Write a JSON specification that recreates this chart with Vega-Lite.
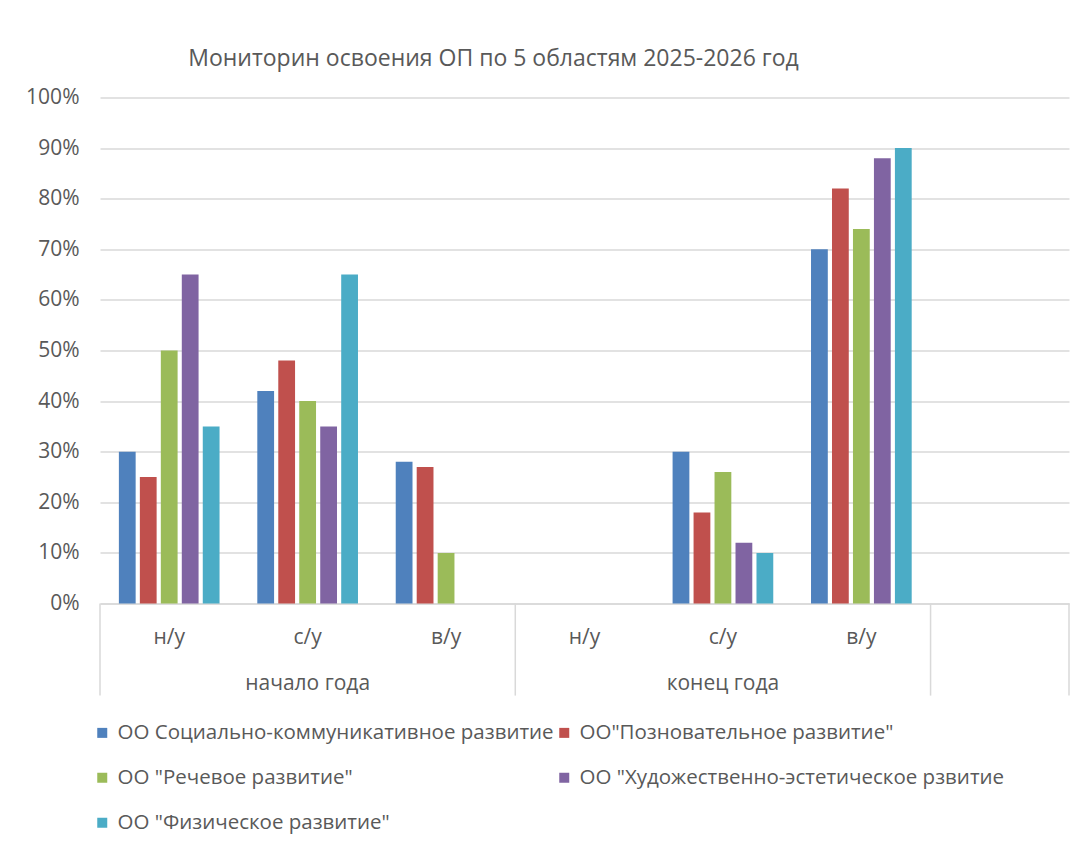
{
  "$schema": "https://vega.github.io/schema/vega-lite/v6.json",
  "autosize": {"type": "none"},
  "padding": {"left": 100, "top": 97.5, "right": 19, "bottom": 248.5},
  "width": 969,
  "height": 506,
  "background": "white",
  "title": {
    "text": "Мониторин освоения ОП по 5 областям 2025-2026 год",
    "font": "Open Sans",
    "fontSize": 23,
    "fontWeight": "normal",
    "color": "#595959",
    "anchor": "middle",
    "frame": "group",
    "dx": -91,
    "offset": 16
  },
  "data": {
    "values": [
      {"pos": 1, "s": "ОО Социально-коммуникативное развитие", "v": 0.30},
      {"pos": 1, "s": "ОО\"Позновательное развитие\"", "v": 0.25},
      {"pos": 1, "s": "ОО \"Речевое развитие\"", "v": 0.50},
      {"pos": 1, "s": "ОО \"Художественно-эстетическое рзвитие", "v": 0.65},
      {"pos": 1, "s": "ОО \"Физическое развитие\"", "v": 0.35},
      {"pos": 2, "s": "ОО Социально-коммуникативное развитие", "v": 0.42},
      {"pos": 2, "s": "ОО\"Позновательное развитие\"", "v": 0.48},
      {"pos": 2, "s": "ОО \"Речевое развитие\"", "v": 0.40},
      {"pos": 2, "s": "ОО \"Художественно-эстетическое рзвитие", "v": 0.35},
      {"pos": 2, "s": "ОО \"Физическое развитие\"", "v": 0.65},
      {"pos": 3, "s": "ОО Социально-коммуникативное развитие", "v": 0.28},
      {"pos": 3, "s": "ОО\"Позновательное развитие\"", "v": 0.27},
      {"pos": 3, "s": "ОО \"Речевое развитие\"", "v": 0.10},
      {"pos": 5, "s": "ОО Социально-коммуникативное развитие", "v": 0.30},
      {"pos": 5, "s": "ОО\"Позновательное развитие\"", "v": 0.18},
      {"pos": 5, "s": "ОО \"Речевое развитие\"", "v": 0.26},
      {"pos": 5, "s": "ОО \"Художественно-эстетическое рзвитие", "v": 0.12},
      {"pos": 5, "s": "ОО \"Физическое развитие\"", "v": 0.10},
      {"pos": 6, "s": "ОО Социально-коммуникативное развитие", "v": 0.70},
      {"pos": 6, "s": "ОО\"Позновательное развитие\"", "v": 0.82},
      {"pos": 6, "s": "ОО \"Речевое развитие\"", "v": 0.74},
      {"pos": 6, "s": "ОО \"Художественно-эстетическое рзвитие", "v": 0.88},
      {"pos": 6, "s": "ОО \"Физическое развитие\"", "v": 0.90}
    ]
  },
  "layer": [
    {
      "mark": {"type": "bar"},
      "encoding": {
        "x": {
          "field": "pos",
          "type": "ordinal",
          "title": null,
          "scale": {"domain": [1, 2, 3, 4, 5, 6, 7], "paddingInner": 0, "paddingOuter": 0},
          "axis": {
            "labelExpr": "datum.value == 1 || datum.value == 4 ? 'н/у' : datum.value == 2 ? ['с/у', 'начало года'] : datum.value == 5 ? ['с/у', 'конец года'] : datum.value == 3 || datum.value == 6 ? 'в/у' : ''",
            "labelAngle": 0,
            "labelBaseline": "top",
            "labelPadding": 23,
            "labelLineHeight": 46,
            "labelFontSize": 21,
            "labelFont": "Open Sans",
            "labelColor": "#595959",
            "ticks": false,
            "grid": false,
            "domain": true,
            "domainColor": "#d9d9d9",
            "domainWidth": 1.5
          }
        },
        "xOffset": {
          "field": "s",
          "type": "nominal",
          "sort": null,
          "scale": {
            "domain": ["ОО Социально-коммуникативное развитие", "ОО\"Позновательное развитие\"", "ОО \"Речевое развитие\"", "ОО \"Художественно-эстетическое рзвитие", "ОО \"Физическое развитие\""],
            "paddingInner": 0.2,
            "paddingOuter": 0.9
          }
        },
        "y": {
          "field": "v",
          "type": "quantitative",
          "title": null,
          "scale": {"domain": [0, 1], "nice": false},
          "axis": {
            "values": [0, 0.1, 0.2, 0.3, 0.4, 0.5, 0.6, 0.7, 0.8, 0.9, 1],
            "format": ".0%",
            "grid": true,
            "gridColor": "#d9d9d9",
            "gridWidth": 1.3,
            "domain": false,
            "ticks": false,
            "labelPadding": 21,
            "labelFontSize": 21,
            "labelFont": "Open Sans",
            "labelColor": "#595959"
          }
        },
        "color": {
          "field": "s",
          "type": "nominal",
          "sort": null,
          "scale": {
            "domain": ["ОО Социально-коммуникативное развитие", "ОО\"Позновательное развитие\"", "ОО \"Речевое развитие\"", "ОО \"Художественно-эстетическое рзвитие", "ОО \"Физическое развитие\""],
            "range": ["#4F81BD", "#C0504D", "#9BBB59", "#8064A2", "#4BACC6"]
          },
          "legend": {
            "title": null,
            "orient": "none",
            "legendX": -8,
            "legendY": 625,
            "columns": 2,
            "direction": "horizontal",
            "columnPadding": -3,
            "rowPadding": 24,
            "padding": 0,
            "symbolType": "square",
            "symbolSize": 100,
            "symbolStrokeWidth": 0,
            "labelOffset": 5,
            "labelFont": "Open Sans",
            "labelFontSize": 20.5,
            "labelColor": "#595959",
            "labelLimit": 600
          }
        }
      }
    },
    {
      "data": {"values": [{"pos": 1}, {"pos": 4}, {"pos": 7}]},
      "mark": {"type": "rule", "color": "#d9d9d9", "strokeWidth": 1.5},
      "encoding": {
        "x": {"field": "pos", "type": "ordinal", "bandPosition": 0, "title": null},
        "y": {"datum": 0},
        "y2": {"datum": -0.182}
      }
    },
    {
      "data": {"values": [{"pos": 7}]},
      "mark": {"type": "rule", "color": "#d9d9d9", "strokeWidth": 1.5},
      "encoding": {
        "x": {"field": "pos", "type": "ordinal", "bandPosition": 1, "title": null},
        "y": {"datum": 0},
        "y2": {"datum": -0.182}
      }
    }
  ],
  "config": {
    "view": {"stroke": null}
  }
}
